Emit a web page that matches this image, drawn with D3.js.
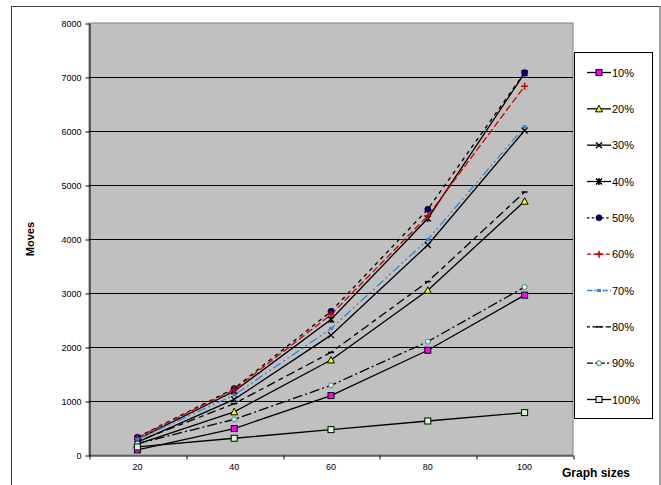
<!DOCTYPE html>
<html>
<head>
<meta charset="utf-8">
<script src="https://cdn.jsdelivr.net/npm/d3@7"></script>
<style>
  html, body { margin: 0; padding: 0; background: #fff; }
  svg { display: block; font-family: "Liberation Sans", Arial, sans-serif; }
  svg text { font-family: "Liberation Sans", Arial, sans-serif; }
</style>
</head>
<body>
<svg id="chart" width="661" height="485"></svg>
<script>
// Graph sizes on the x axis
const graphSizes = ["20", "40", "60", "80", "100"];
const yTicks = [0, 1000, 2000, 3000, 4000, 5000, 6000, 7000, 8000];

// Moves for each percentage, one value per graph size
const moves10  = [95, 490, 1100, 1940, 2960];
const moves20  = [200, 800, 1760, 3050, 4700];
const moves30  = [240, 1030, 2220, 3890, 6010];
const moves40  = [290, 1180, 2510, 4380, 7070];
const moves50  = [330, 1230, 2660, 4550, 7080];
const moves60  = [320, 1210, 2600, 4430, 6830];
const moves70  = [290, 1110, 2340, 3990, 6080];
const moves80  = [250, 950, 1900, 3210, 4870];
const moves90  = [210, 660, 1290, 2100, 3110];
const moves100 = [150, 310, 470, 630, 785];

const seriesNames = ["10%", "20%", "30%", "40%", "50%", "60%", "70%", "80%", "90%", "100%"];
const seriesValues = [moves10, moves20, moves30, moves40, moves50, moves60, moves70, moves80, moves90, moves100];

// Line and marker style per series
const styles = [
  { stroke: "#000", dash: null,          marker: "square",   fill: "#ff00ff" },
  { stroke: "#000", dash: null,          marker: "triangle", fill: "#ffff00" },
  { stroke: "#000", dash: null,          marker: "x",        fill: "none" },
  { stroke: "#000", dash: null,          marker: "star",     fill: "none" },
  { stroke: "#000", dash: "4,4",         marker: "circle",   fill: "#000080" },
  { stroke: "#d00000", dash: "7,3",      marker: "plus",     fill: "none" },
  { stroke: "#2f86d6", dash: "9,3,2,3,2,3", marker: "dot",   fill: "#2f86d6" },
  { stroke: "#000", dash: "5,4,9,4",     marker: "dash",     fill: "none" },
  { stroke: "#000", dash: "10,3,2,3",    marker: "diamond",  fill: "#ccffff" },
  { stroke: "#000", dash: null,          marker: "square",   fill: "#ccffcc" }
];

const svg = d3.select("#chart");

// Chart frame
svg.append("rect")
  .attr("x", 11.5).attr("y", 6.5).attr("width", 648.5).attr("height", 490)
  .attr("fill", "#fff").attr("stroke", "#404040").attr("stroke-width", 1);

const plot = { left: 89, right: 573, top: 23, bottom: 455 };

const x = d3.scaleBand().domain(graphSizes).range([plot.left, plot.right]).padding(0);
const y = d3.scaleLinear().domain([0, 8000]).range([plot.bottom, plot.top]);

// Plot area
svg.append("rect")
  .attr("x", plot.left).attr("y", plot.top)
  .attr("width", plot.right - plot.left).attr("height", plot.bottom - plot.top)
  .attr("fill", "#c0c0c0").attr("stroke", "#808080").attr("stroke-width", 1);

// Horizontal gridlines
svg.append("g")
  .selectAll("line")
  .data(yTicks.filter(v => v > 0 && v < 8000))
  .join("line")
  .attr("x1", plot.left).attr("x2", plot.right)
  .attr("y1", d => Math.round(y(d)) + 0.5).attr("y2", d => Math.round(y(d)) + 0.5)
  .attr("stroke", "#000").attr("stroke-width", 1);

// Y axis
const yAxis = svg.append("g")
  .attr("transform", `translate(${plot.left + 0.5},0.5)`)
  .call(d3.axisLeft(y).tickValues(yTicks).tickFormat(d3.format("d"))
    .tickSize(4).tickSizeOuter(0).tickPadding(4));
yAxis.attr("font-family", null);
yAxis.select(".domain").attr("stroke", "#000");
yAxis.selectAll("line").attr("stroke", "#000");
yAxis.selectAll("text").attr("font-size", 9).attr("fill", "#000");

// X axis: labels centred on categories, tick marks between categories
const xAxis = svg.append("g")
  .attr("transform", `translate(0,${plot.bottom + 0.5})`)
  .call(d3.axisBottom(x).tickSize(0).tickSizeOuter(0).tickPadding(8));
xAxis.attr("font-family", null);
xAxis.select(".domain").attr("stroke", "#000");
xAxis.selectAll("text").attr("font-size", 9).attr("fill", "#000");

const xEdges = d3.scaleLinear().domain([0, graphSizes.length]).range([plot.left, plot.right]);
svg.append("g")
  .attr("transform", `translate(0,${plot.bottom + 0.5})`)
  .call(d3.axisBottom(xEdges).tickValues(d3.range(graphSizes.length + 1))
    .tickSize(4).tickSizeOuter(0).tickFormat(""))
  .call(g => g.select(".domain").remove())
  .call(g => g.selectAll("line").attr("stroke", "#000")
    .attr("transform", d => `translate(${Math.round(xEdges(d)) + 0.5 - xEdges(d)},0)`));

// Axis titles
svg.append("text")
  .attr("transform", `translate(34,${(plot.top + plot.bottom) / 2}) rotate(-90)`)
  .attr("text-anchor", "middle")
  .attr("font-size", 11).attr("font-weight", "bold")
  .text("Moves");

svg.append("text")
  .attr("x", 596).attr("y", 477)
  .attr("text-anchor", "middle")
  .attr("font-size", 12).attr("font-weight", "bold")
  .text("Graph sizes");

// Marker drawing
function drawMarker(g, type, fill, stroke) {
  switch (type) {
    case "square":
      g.append("rect").attr("x", -3).attr("y", -3).attr("width", 6).attr("height", 6)
        .attr("fill", fill).attr("stroke", "#000").attr("stroke-width", 1);
      break;
    case "triangle":
      g.append("path").attr("d", "M0,-3.5L3.5,3L-3.5,3Z")
        .attr("fill", fill).attr("stroke", "#000").attr("stroke-width", 1);
      break;
    case "x":
      g.append("path").attr("d", "M-3,-3L3,3M-3,3L3,-3")
        .attr("stroke", "#000").attr("stroke-width", 1.3).attr("fill", "none");
      break;
    case "star":
      g.append("path").attr("d", "M-3,-3L3,3M-3,3L3,-3M0,-3.5L0,3.5")
        .attr("stroke", "#000").attr("stroke-width", 1.5).attr("fill", "none");
      break;
    case "circle":
      g.append("circle").attr("r", 3)
        .attr("fill", fill).attr("stroke", "#000020").attr("stroke-width", 0.8);
      break;
    case "plus":
      g.append("path").attr("d", "M-3.5,0L3.5,0M0,-3.5L0,3.5")
        .attr("stroke", stroke).attr("stroke-width", 1.6).attr("fill", "none");
      break;
    case "dot":
      g.append("rect").attr("x", -2).attr("y", -1.5).attr("width", 4).attr("height", 3)
        .attr("fill", fill);
      break;
    case "dash":
      g.append("path").attr("d", "M-3,0L3,0")
        .attr("stroke", "#000").attr("stroke-width", 1.5);
      break;
    case "diamond":
      g.append("circle").attr("r", 2.5)
        .attr("fill", fill).attr("stroke", "#406060").attr("stroke-width", 0.8);
      break;
  }
}

const line = d3.line()
  .x((d, i) => x(graphSizes[i]) + x.bandwidth() / 2)
  .y(d => y(d));

// Series lines
const seriesG = svg.append("g");
seriesValues.forEach((vals, si) => {
  const st = styles[si];
  seriesG.append("path")
    .datum(vals)
    .attr("d", line)
    .attr("fill", "none")
    .attr("stroke", st.stroke)
    .attr("stroke-width", 1.3)
    .attr("stroke-dasharray", st.dash);
});

// Markers
seriesValues.forEach((vals, si) => {
  const st = styles[si];
  vals.forEach((v, i) => {
    const g = seriesG.append("g")
      .attr("transform", `translate(${x(graphSizes[i]) + x.bandwidth() / 2},${y(v)})`);
    drawMarker(g, st.marker, st.fill, st.stroke);
  });
});

// Legend
const legend = svg.append("g");
legend.append("rect")
  .attr("x", 574.5).attr("y", 52.5).attr("width", 78).attr("height", 366)
  .attr("fill", "#fff").attr("stroke", "#000").attr("stroke-width", 1);

const legendY = d3.scalePoint().domain(seriesNames).range([72, 399]);
seriesNames.forEach((name, si) => {
  const st = styles[si];
  const ly = legendY(name);
  const item = legend.append("g").attr("transform", `translate(0,${ly})`);
  item.append("line")
    .attr("x1", 587).attr("x2", 611).attr("y1", 0.5).attr("y2", 0.5)
    .attr("stroke", st.stroke).attr("stroke-width", 1.3)
    .attr("stroke-dasharray", st.dash ? st.dash.split(",").map(d => Math.max(2, d * 0.6)).join(",") : null);
  const mg = item.append("g").attr("transform", "translate(599,0.5)");
  drawMarker(mg, st.marker, st.fill, st.stroke);
  item.append("text")
    .attr("x", 612).attr("y", 4.5)
    .attr("font-size", 11)
    .attr("fill", "#000")
    .text(name);
});
</script>
</body>
</html>
